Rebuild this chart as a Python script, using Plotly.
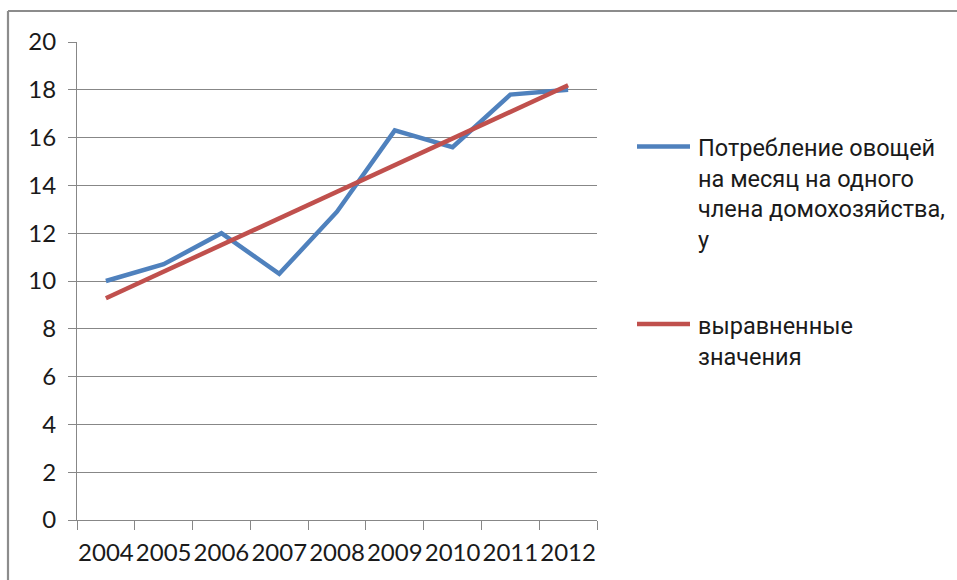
import plotly.graph_objects as go

# Years and series values
years = ["2004", "2005", "2006", "2007", "2008", "2009", "2010", "2011", "2012"]
consumption = [10.0, 10.7, 12.0, 10.3, 12.9, 16.3, 15.6, 17.8, 18.0]
trend = [9.28, 10.39, 11.51, 12.62, 13.74, 14.85, 15.96, 17.08, 18.19]

name_consumption = "Потребление овощей<br>на месяц на одного<br>члена домохозяйства,<br>у"
name_trend = "выравненные<br>значения"

y_ticks = [0, 2, 4, 6, 8, 10, 12, 14, 16, 18, 20]

BLUE = "#4F81BD"
RED = "#C0504D"
GRID = "#878787"
FRAME = "#8C8C8C"

W, H = 957, 580
ML, MR, MT, MB = 77, 360, 42, 60
PW, PH = W - ML - MR, H - MT - MB


def px(x):
    return (x - ML) / PW


def py(y):
    return (H - MB - y) / PH


fig = go.Figure()
fig.add_trace(go.Scatter(x=years, y=consumption, mode="lines",
                         line=dict(color=BLUE, width=4.5), showlegend=False))
fig.add_trace(go.Scatter(x=years, y=trend, mode="lines",
                         line=dict(color=RED, width=4.5), showlegend=False))

tick_font = dict(family="Lato, Roboto, sans-serif", size=24, color="#1a1a1a")
legend_font = dict(family="Roboto, sans-serif", size=23.5, color="#1a1a1a")

fig.update_layout(
    width=W, height=H,
    margin=dict(l=ML, r=MR, t=MT, b=MB, autoexpand=False),
    paper_bgcolor="white", plot_bgcolor="white",
    xaxis=dict(type="category", range=[-0.5, len(years) - 0.5],
               tickson="boundaries", ticks="outside", tickangle=0,
               automargin=False,
               ticklen=9, tickcolor=GRID, tickwidth=1.2,
               showgrid=False, showline=True, linecolor=GRID, linewidth=1.2,
               tickfont=tick_font, ticklabelstandoff=11, zeroline=False),
    yaxis=dict(range=[0, 20], tickvals=y_ticks, ticks="outside", ticklen=8,
               automargin=False,
               tickcolor=GRID, tickwidth=1.2, showgrid=True, gridcolor=GRID,
               gridwidth=1.2, showline=True, linecolor=GRID, linewidth=1.2,
               zeroline=False, tickfont=tick_font, ticklabelstandoff=7),
)

# Outer chart frame (top and left edges)
fig.add_shape(type="line", xref="paper", yref="paper",
              x0=px(8), x1=px(W + 5), y0=py(11), y1=py(11),
              line=dict(color=FRAME, width=2.2))
fig.add_shape(type="line", xref="paper", yref="paper",
              x0=px(8), x1=px(8), y0=py(11), y1=py(H + 5),
              line=dict(color=FRAME, width=2.2))

# Legend keys and labels
for color, label, ky, ty in [(BLUE, name_consumption, 146.5, 132),
                             (RED, name_trend, 324, 310)]:
    fig.add_shape(type="line", xref="paper", yref="paper",
                  x0=px(637), x1=px(690), y0=py(ky), y1=py(ky),
                  line=dict(color=color, width=4.5))
    fig.add_annotation(xref="paper", yref="paper", x=px(696), y=py(ty),
                       xanchor="left", yanchor="top", align="left",
                       text=label, showarrow=False, font=legend_font)

fig.write_html("out.html")
